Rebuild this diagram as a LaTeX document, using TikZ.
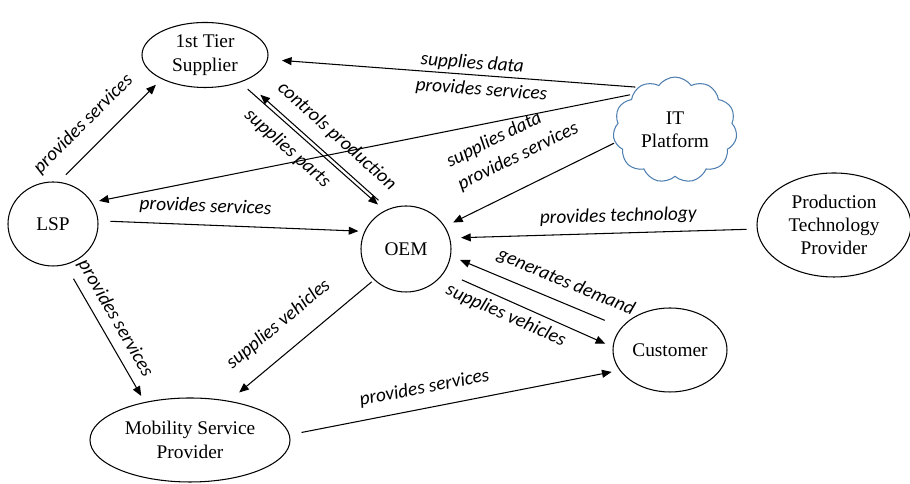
\documentclass[tikz,border=0pt]{standalone}
\usepackage{fontspec}
\setmainfont{Liberation Serif}
\newfontfamily\edgefont{Carlito}
\usetikzlibrary{shapes.geometric,shapes.symbols,arrows.meta}
\definecolor{cloudblue}{RGB}{79,127,176}

\begin{document}
\begin{tikzpicture}[
		actor/.style={ellipse, draw, line width=0.6pt, inner sep=0pt, align=center,
			font=\fontsize{11}{13.3}\selectfont},
		flow/.style={-{Triangle[length=5.5pt, width=4.5pt]}, line width=0.6pt,
			shorten <=0.2cm, shorten >=0.18cm},
		rel/.style={font=\edgefont\itshape\fontsize{11}{14.5}\selectfont, sloped}
	]
	\useasboundingbox (0,0) rectangle (18.2,9.68);

	% actors
	\draw node[actor, minimum width=1.8cm, minimum height=1.72cm] at (8.12,4.70) (oem) {OEM};
	\draw node[actor, minimum width=2.52cm, minimum height=1.3cm]
	[above of=oem, node distance=3.88cm, xshift=-4.02cm] (tier) {1st Tier\\Supplier};
	\draw node[actor, minimum width=1.8cm, minimum height=1.68cm]
	[left of=oem, node distance=7.06cm, yshift=0.5cm] (lsp) {LSP};
	\draw node[cloud, cloud puffs=11, cloud puff arc=110, draw=cloudblue, line width=0.6pt,
		inner sep=0pt, minimum width=2.48cm, minimum height=1.68cm, align=center,
		font=\fontsize{11}{13.3}\selectfont]
	[right of=oem, node distance=5.38cm, yshift=2.38cm] (it) {IT\\Platform};
	\draw node[actor, minimum width=3.08cm, minimum height=2.08cm]
	[right of=oem, node distance=8.56cm, yshift=0.48cm] (ptp) {Production\\Technology\\Provider};
	\draw node[actor, minimum width=2.28cm, minimum height=1.68cm]
	[right of=oem, node distance=5.28cm, yshift=-2.02cm] (cust) {Customer};
	\draw node[actor, minimum width=4cm, minimum height=1.68cm]
	[below of=oem, node distance=3.82cm, xshift=-4.32cm] (msp) {Mobility Service\\Provider};

	% relations
	\draw[flow, shorten >=0.16cm] (lsp.82) -- node[rel, above=5pt, pos=0.4] {provides services} (tier.209);
	\draw[flow] (tier.-38) -- node[rel, below=2pt, pos=0.41] {supplies parts} (oem.119.5);
	\draw[flow, shorten <=0.26cm, shorten >=0.42cm] (oem.114) -- node[rel, above=3pt, pos=0.45] {controls production} (tier.-33);
	\draw[flow, shorten <=0.05cm, shorten >=0.28cm] (it.131)
	-- node[rel, above=-2pt, pos=0.45] {supplies data}
	node[rel, below, pos=0.42] {provides services} (tier.-4.5);
	\draw[flow, shorten <=0.05cm, shorten >=0.14cm] (it.140) -- (lsp.29);
	\draw[flow, shorten <=0.02cm] (it.192) -- node[rel, above=9pt, pos=0.49, align=left]
	{supplies data\\provides services} (oem.30);
	\draw[flow, shorten <=0.24cm, shorten >=0.12cm] (lsp.4) -- node[rel, above=2pt, pos=0.4] {provides services} (oem.157.5);
	\draw[flow, shorten >=0.22cm] (ptp.183) -- node[rel, above=1pt, pos=0.45] {provides technology} (oem.14.5);
	\draw[flow, shorten <=0.36cm, shorten >=0.2cm] (cust.155) -- node[rel, above=3pt, pos=0.37] {generates demand} (oem.-9.5);
	\draw[flow, shorten <=0.38cm, shorten >=0.16cm] (oem.-31.4) -- node[rel, below, pos=0.4] {supplies vehicles} (cust.177);
	\draw[flow, shorten <=0.06cm, shorten >=0.26cm] (oem.224) -- node[rel, above=7pt, pos=0.54] {supplies vehicles} (msp.45);
	\draw[flow, shorten <=0.32cm, shorten >=0.14cm] (lsp.-73) -- node[rel, above=1pt, pos=0.45] {provides services} (msp.140);
	\draw[flow, shorten <=0.24cm, shorten >=0.16cm] (msp.3) -- node[rel, above=3pt, pos=0.42] {provides services} (cust.202);
\end{tikzpicture}
\end{document}
